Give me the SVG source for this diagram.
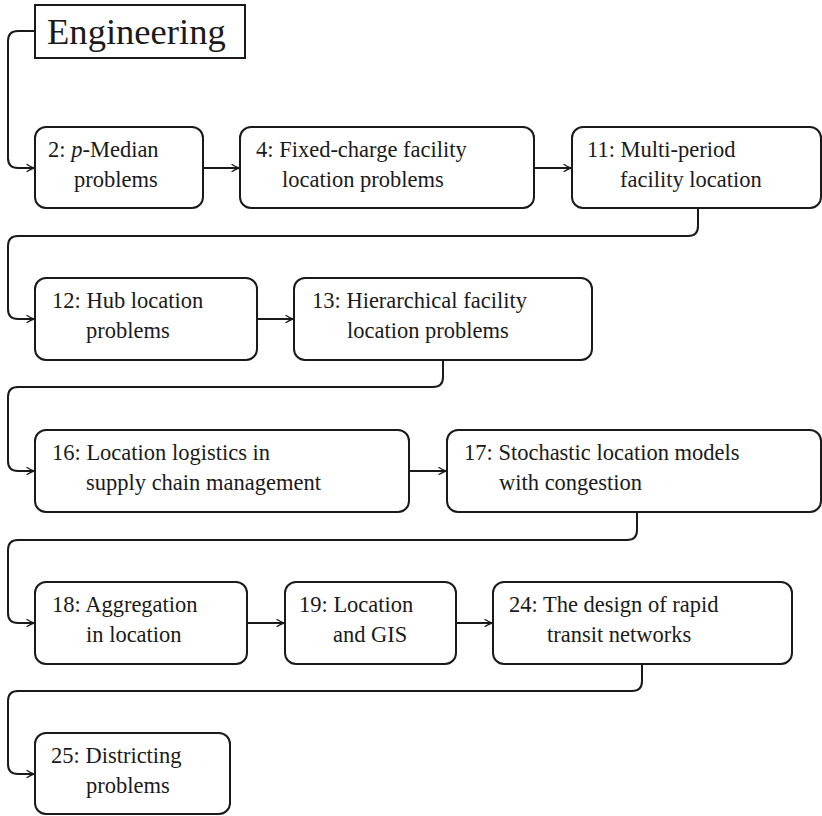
<svg xmlns="http://www.w3.org/2000/svg" width="822" height="816" viewBox="0 0 822 816">
  <style>
    .box { fill: #fff; stroke: #1a1a1a; stroke-width: 2; }
    .lbl { font-family: "Liberation Serif", "Times New Roman", serif; font-size: 22.5px; fill: #1a1a1a; }
    .title { font-family: "Liberation Serif", "Times New Roman", serif; font-size: 36.6px; fill: #1a1a1a; }
    .edge { fill: none; stroke: #1a1a1a; stroke-width: 2; marker-end: url(#arr); }
  </style>
  <defs>
    <marker id="arr" viewBox="-8 -5 10 10" refX="0" refY="0" markerWidth="10" markerHeight="10" markerUnits="userSpaceOnUse" orient="auto">
      <path d="M -7 -3.5 Q -2.5 -0.6 0 0 Q -2.5 0.6 -7 3.5" fill="none" stroke="#1a1a1a" stroke-width="1.3" stroke-linecap="round"/>
    </marker>
  </defs>

  <g id="connectors">
    <!-- start loop from the title -->
    <path class="edge" d="M 35 31 H 18 Q 8 31 8 41 V 158 Q 8 168 18 168 H 34"/>
    <!-- row 1 -->
    <path class="edge" d="M 203 168 H 239"/>
    <path class="edge" d="M 534 168 H 571"/>
    <!-- wrap to row 2 -->
    <path class="edge" d="M 698 208 V 226 Q 698 236 688 236 H 18 Q 8 236 8 246 V 309 Q 8 319 18 319 H 34"/>
    <path class="edge" d="M 257 319 H 293"/>
    <!-- wrap to row 3 -->
    <path class="edge" d="M 443 360 V 377 Q 443 387 433 387 H 18 Q 8 387 8 397 V 461 Q 8 471 18 471 H 34"/>
    <path class="edge" d="M 409 471 H 446"/>
    <!-- wrap to row 4 -->
    <path class="edge" d="M 637 512 V 530 Q 637 540 627 540 H 18 Q 8 540 8 550 V 613 Q 8 623 18 623 H 34"/>
    <path class="edge" d="M 247 623 H 284"/>
    <path class="edge" d="M 456 623 H 492"/>
    <!-- wrap to row 5 -->
    <path class="edge" d="M 642 664 V 681 Q 642 691 632 691 H 18 Q 8 691 8 701 V 764 Q 8 774 18 774 H 34"/>
  </g>

  <g id="engineering">
    <rect x="35" y="5" width="210" height="53" fill="#fff" stroke="#1a1a1a" stroke-width="2"/>
    <text class="title" x="47" y="44">Engineering</text>
  </g>

  <g id="n2">
    <rect class="box" x="35" y="127" width="168" height="81" rx="11"/>
    <text class="lbl" x="48" y="157">2: <tspan font-style="italic">p</tspan>-Median</text>
    <text class="lbl" x="74" y="187">problems</text>
  </g>
  <g id="n4">
    <rect class="box" x="240" y="127" width="294" height="81" rx="11"/>
    <text class="lbl" x="256" y="157">4: Fixed-charge facility</text>
    <text class="lbl" x="282" y="187">location problems</text>
  </g>
  <g id="n11">
    <rect class="box" x="572" y="127" width="249" height="81" rx="11"/>
    <text class="lbl" x="587" y="157">11: Multi-period</text>
    <text class="lbl" x="620" y="187">facility location</text>
  </g>

  <g id="n12">
    <rect class="box" x="35" y="278" width="222" height="82" rx="11"/>
    <text class="lbl" x="52" y="308">12: Hub location</text>
    <text class="lbl" x="86" y="338">problems</text>
  </g>
  <g id="n13">
    <rect class="box" x="294" y="278" width="298" height="82" rx="11"/>
    <text class="lbl" x="312" y="308">13: Hierarchical facility</text>
    <text class="lbl" x="347" y="338">location problems</text>
  </g>

  <g id="n16">
    <rect class="box" x="35" y="430" width="374" height="82" rx="11"/>
    <text class="lbl" x="52" y="460">16: Location logistics in</text>
    <text class="lbl" x="86" y="490">supply chain management</text>
  </g>
  <g id="n17">
    <rect class="box" x="447" y="430" width="374" height="82" rx="11"/>
    <text class="lbl" x="464" y="460">17: Stochastic location models</text>
    <text class="lbl" x="499" y="490">with congestion</text>
  </g>

  <g id="n18">
    <rect class="box" x="35" y="582" width="212" height="82" rx="11"/>
    <text class="lbl" x="52" y="612">18: Aggregation</text>
    <text class="lbl" x="86" y="642">in location</text>
  </g>
  <g id="n19">
    <rect class="box" x="285" y="582" width="171" height="82" rx="11"/>
    <text class="lbl" x="299" y="612">19: Location</text>
    <text class="lbl" x="333" y="642">and GIS</text>
  </g>
  <g id="n24">
    <rect class="box" x="493" y="582" width="299" height="82" rx="11"/>
    <text class="lbl" x="509" y="612">24: The design of rapid</text>
    <text class="lbl" x="547" y="642">transit networks</text>
  </g>

  <g id="n25">
    <rect class="box" x="35" y="733" width="195" height="81" rx="11"/>
    <text class="lbl" x="51" y="763">25: Districting</text>
    <text class="lbl" x="86" y="793">problems</text>
  </g>
</svg>
